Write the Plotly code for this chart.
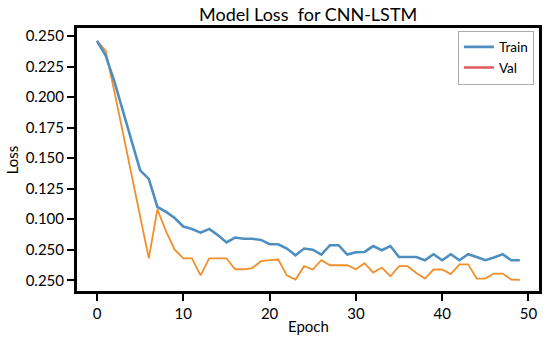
import plotly.graph_objects as go

epochs = list(range(50))
train_loss = [0.246, 0.234, 0.213, 0.188, 0.163, 0.140, 0.133, 0.110, 0.106, 0.101,
              0.094, 0.092, 0.089, 0.092, 0.087, 0.081, 0.085, 0.084, 0.084, 0.083,
              0.0795, 0.0795, 0.076, 0.0705, 0.076, 0.075, 0.071, 0.0787, 0.0787, 0.071,
              0.073, 0.0732, 0.078, 0.0746, 0.078, 0.069, 0.069, 0.069, 0.0664, 0.0713,
              0.0664, 0.0713, 0.0664, 0.0713, 0.069, 0.0664, 0.0686, 0.0713, 0.0664, 0.0664]
val_loss = [0.246, 0.238, 0.205, 0.171, 0.137, 0.102, 0.068, 0.108, 0.090, 0.075,
            0.068, 0.068, 0.054, 0.068, 0.068, 0.068, 0.059, 0.059, 0.060, 0.0656,
            0.0665, 0.067, 0.054, 0.0506, 0.0615, 0.0588, 0.0664, 0.0623, 0.0623, 0.0623,
            0.059, 0.064, 0.0563, 0.0604, 0.0533, 0.0615, 0.0615, 0.056, 0.0514, 0.0588,
            0.0588, 0.055, 0.063, 0.063, 0.0514, 0.0514, 0.0555, 0.0555, 0.0506, 0.0503]

y_tickvals = [0.050, 0.075, 0.100, 0.125, 0.150, 0.175, 0.200, 0.225, 0.250]
y_ticktext = ['0.250', '0.250', '0.100', '0.125', '0.150', '0.175', '0.200', '0.225', '0.250']
x_tickvals = [0, 10, 20, 30, 40, 50]

FONT = "Lato"
BLUE = "#4f8fc0"
ORANGE = "#f0902c"
RED = "#dc5a5a"

fig = go.Figure()
fig.add_trace(go.Scatter(x=epochs, y=val_loss, mode="lines", name="Val",
                         line=dict(color=ORANGE, width=1.8), showlegend=False))
fig.add_trace(go.Scatter(x=epochs, y=train_loss, mode="lines", name="Train",
                         line=dict(color=BLUE, width=2.6)))
fig.add_trace(go.Scatter(x=[None], y=[None], mode="lines", name="Val",
                         line=dict(color=RED, width=2.6)))

axis_common = dict(showline=True, linecolor="black", linewidth=3, mirror=True,
                   ticks="outside", ticklen=7, tickwidth=2, tickcolor="black",
                   showgrid=False, zeroline=False, automargin=False,
                   tickfont=dict(family=FONT, size=15, color="black"))

fig.update_layout(
    width=550, height=339,
    margin=dict(l=77.3, r=10.7, t=28, b=48.3),
    paper_bgcolor="white", plot_bgcolor="white",
    font=dict(family=FONT, color="black"),
    xaxis=dict(range=[-2.32, 51.22], tickvals=x_tickvals, **axis_common),
    yaxis=dict(range=[0.0412, 0.2566], tickvals=y_tickvals, ticktext=y_ticktext,
               **axis_common),
    legend=dict(x=0.989, y=0.99, xanchor="right", yanchor="top",
                bordercolor="#aaaaaa", borderwidth=1, bgcolor="white",
                font=dict(family=FONT, size=13.5, color="black"),
                tracegroupgap=0, itemwidth=30),
    showlegend=True,
    annotations=[
        dict(text="Model Loss\u00a0 for CNN-LSTM", x=0.5, y=1.053, xref="paper", yref="paper",
             xanchor="center", yanchor="middle", showarrow=False,
             font=dict(family=FONT, size=18, color="black")),
        dict(text="Epoch", x=0.5, y=-0.134, xref="paper", yref="paper",
             xanchor="center", yanchor="middle", showarrow=False,
             font=dict(family=FONT, size=15, color="black")),
        dict(text="Loss", x=-0.141, y=0.5, xref="paper", yref="paper", textangle=-90,
             xanchor="center", yanchor="middle", showarrow=False,
             font=dict(family=FONT, size=15, color="black")),
    ],
)

fig.write_html("out.html", config={"displayModeBar": False},
               post_script="document.body.style.margin='0';")
